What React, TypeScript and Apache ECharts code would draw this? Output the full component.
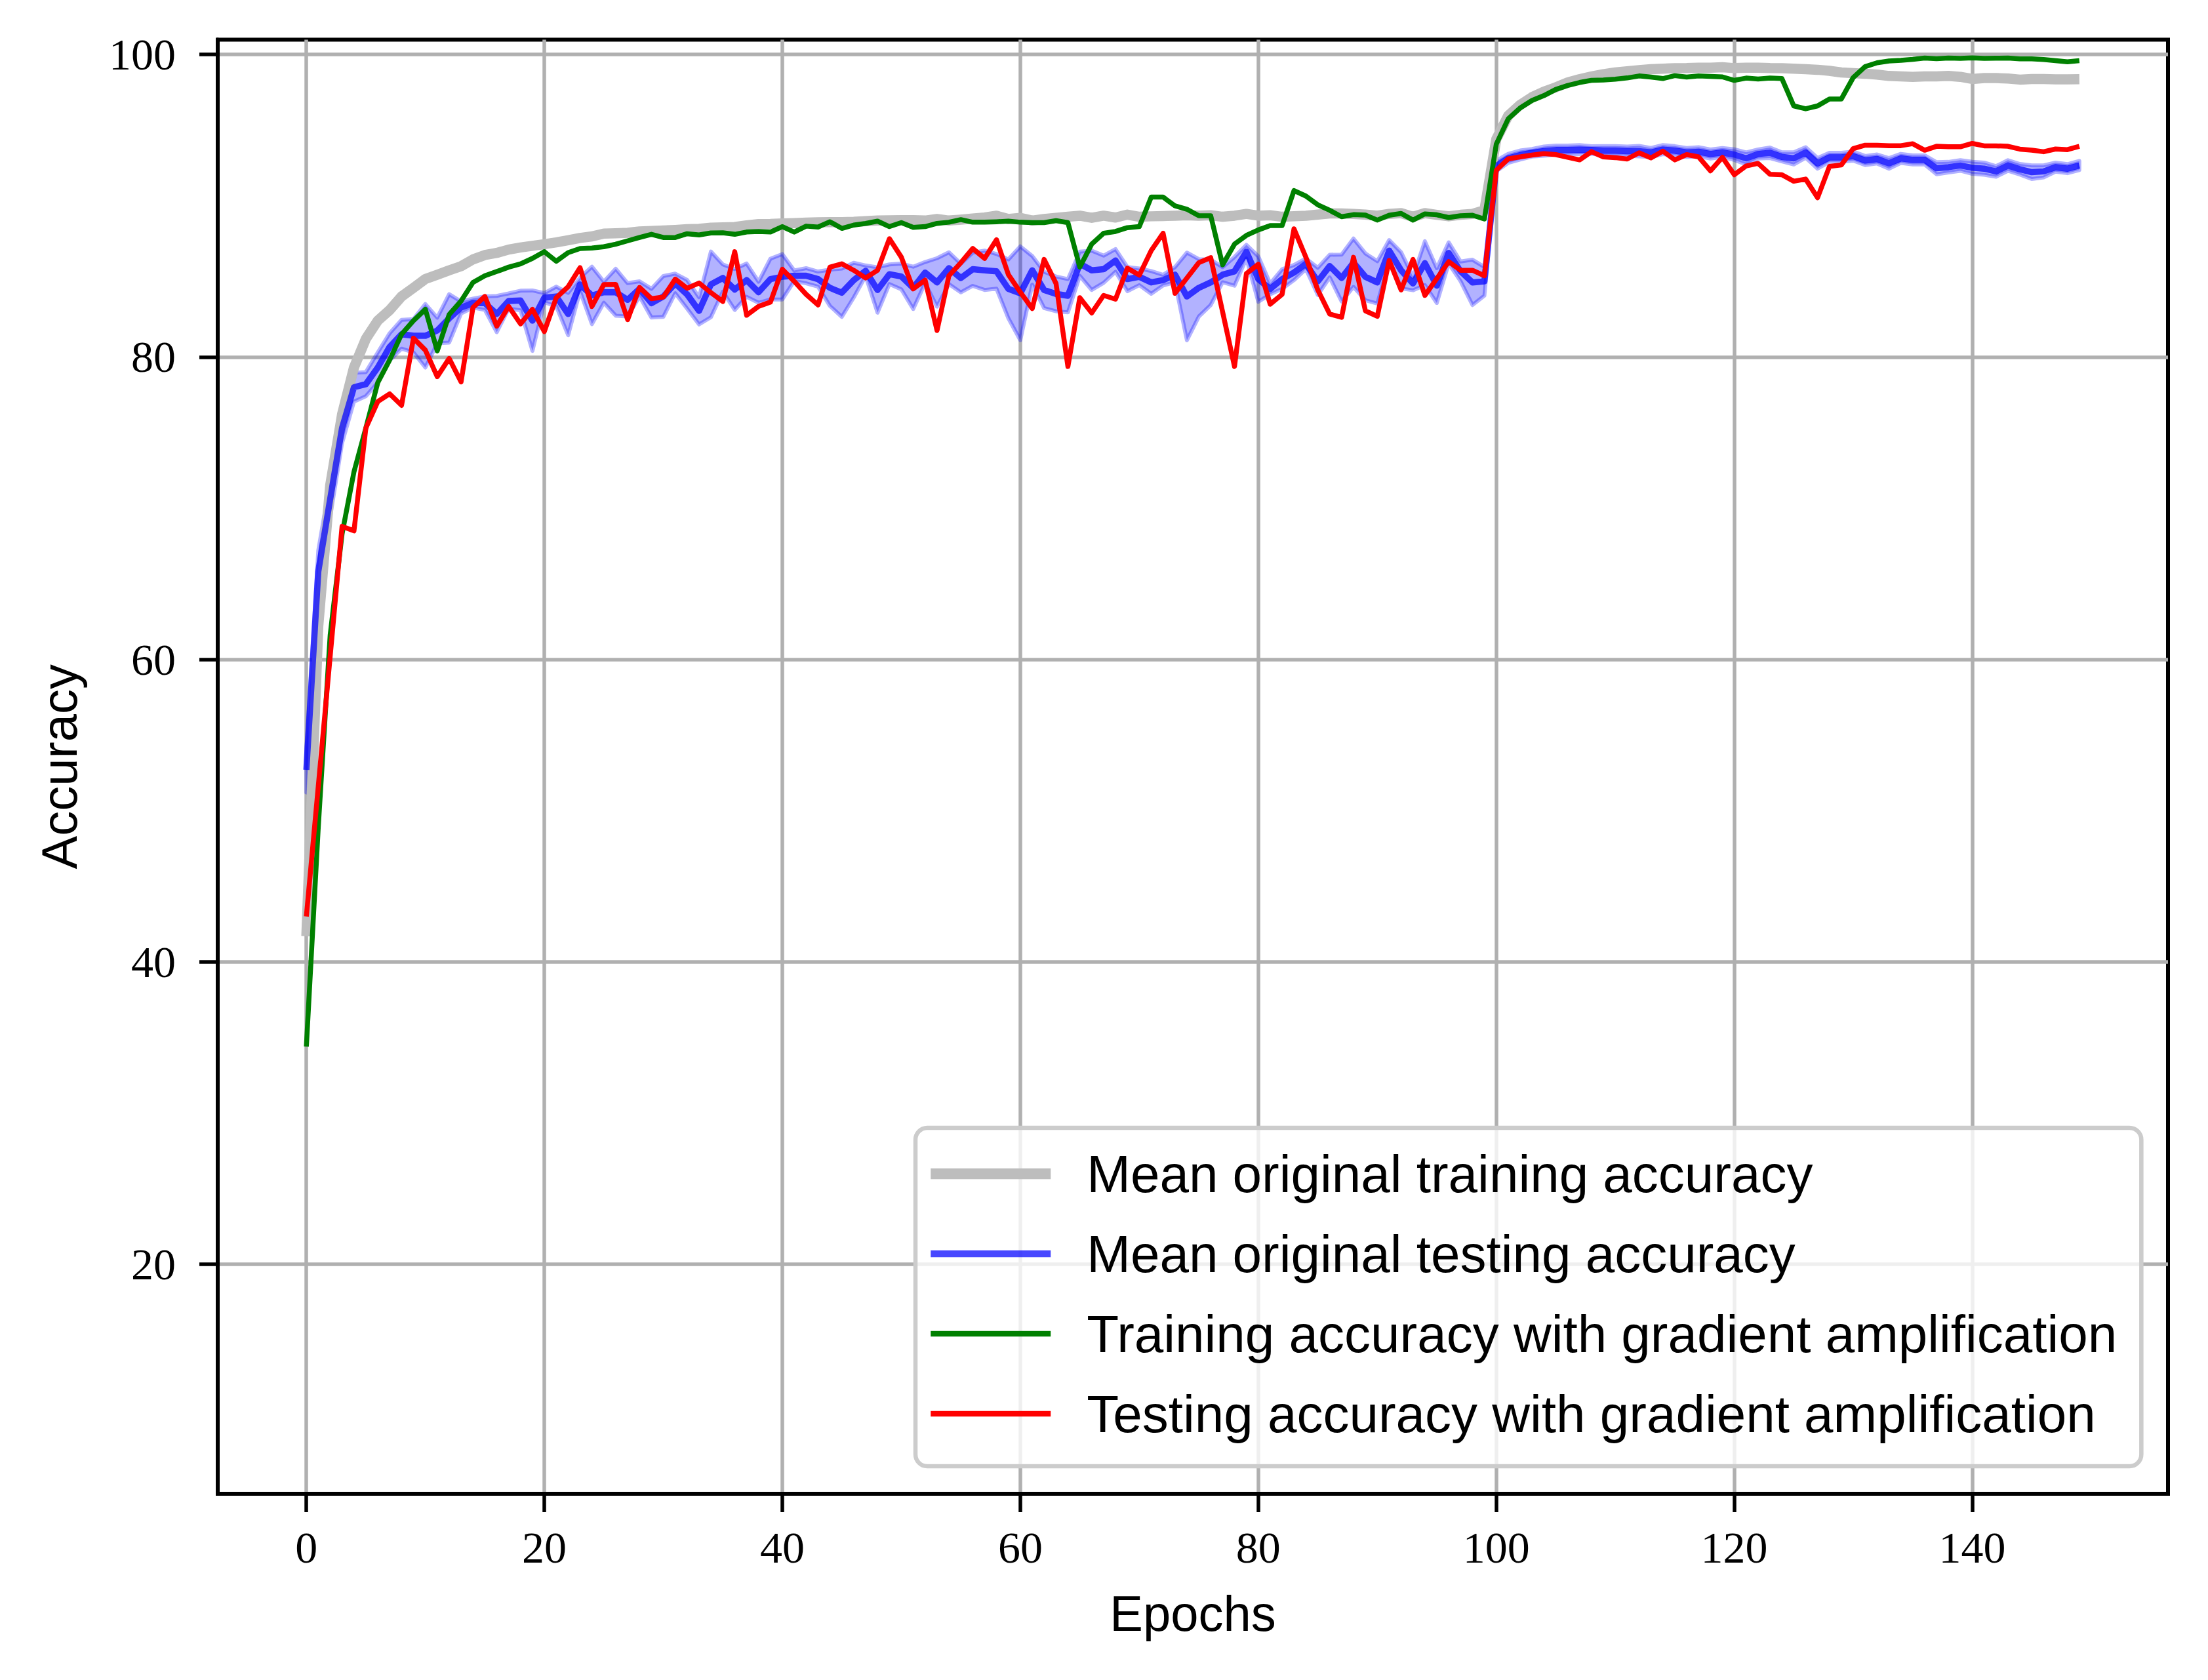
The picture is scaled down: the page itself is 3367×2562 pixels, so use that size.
import React, { useEffect, useRef } from 'react';
import * as echarts from 'echarts';

const grayTrain = [
  41.7, 62.2, 71.5, 76.2, 79.3, 81.2, 82.4, 83.1, 84.0, 84.57,
  85.15, 85.44, 85.73, 86.0, 86.45, 86.74, 86.88, 87.1, 87.24, 87.35,
  87.46, 87.58, 87.72, 87.87, 87.97, 88.16, 88.18, 88.21, 88.3, 88.33,
  88.36, 88.4, 88.45, 88.47, 88.55, 88.57, 88.59, 88.7, 88.79, 88.8,
  88.83, 88.85, 88.88, 88.9, 88.91, 88.92, 88.94, 88.98, 89.02, 89.03,
  89.05, 89.04, 89.02, 89.12, 89.02, 89.08, 89.15, 89.22, 89.34, 89.12,
  89.2, 89.02, 89.12, 89.2, 89.27, 89.34, 89.2, 89.34, 89.22, 89.41,
  89.27, 89.3, 89.32, 89.34, 89.37, 89.34, 89.37, 89.27, 89.34, 89.46,
  89.34, 89.37, 89.27, 89.31, 89.34, 89.41, 89.49, 89.49, 89.46, 89.41,
  89.34, 89.46, 89.51, 89.27, 89.51, 89.4, 89.3, 89.4, 89.46, 89.7,
  94.4, 95.95, 96.67, 97.18, 97.54, 97.83, 98.15, 98.37, 98.55, 98.7,
  98.81, 98.89, 98.96, 99.03, 99.06, 99.09, 99.1, 99.13, 99.13, 99.16,
  99.1, 99.13, 99.13, 99.1, 99.09, 99.06, 99.03, 98.99, 98.92, 98.81,
  98.77, 98.73, 98.67, 98.58, 98.55, 98.52, 98.55, 98.55, 98.58, 98.52,
  98.38, 98.44, 98.44, 98.41, 98.34, 98.38, 98.38, 98.36, 98.36, 98.37,
];

const blueTest = [
  52.7, 65.8, 70.6, 75.3, 78.0, 78.2, 79.3, 80.67, 81.5, 81.4,
  81.4, 81.75, 82.55, 83.27, 83.56, 83.56, 82.84, 83.7, 83.73, 82.4,
  83.92, 84.0, 82.84, 84.79, 84.07, 84.28, 84.28, 83.78, 84.5, 83.56,
  84.0, 84.86, 84.14, 83.05, 84.8, 85.22, 84.46, 85.08, 84.28, 85.15,
  85.3, 85.37, 85.37, 85.15, 84.57, 84.25, 85.08, 85.7, 84.43, 85.47,
  85.32, 84.57, 85.58, 84.93, 85.87, 85.22, 85.8, 85.73, 85.66, 84.5,
  84.21, 85.73, 84.43, 84.17, 84.05, 86.16, 85.73, 85.8, 86.38, 85.15,
  85.3, 84.93, 85.08, 85.44, 84.0, 84.57, 84.93, 85.44, 85.66, 86.96,
  85.15, 84.5, 85.15, 85.58, 86.16, 85.0, 86.01, 85.22, 86.23, 85.3,
  84.93, 87.03, 85.73, 84.86, 86.2, 84.72, 86.88, 85.66, 84.93, 85.0,
  92.63, 93.13, 93.35, 93.5, 93.61, 93.68, 93.68, 93.71, 93.68, 93.64,
  93.64, 93.61, 93.61, 93.52, 93.71, 93.64, 93.52, 93.57, 93.42, 93.52,
  93.38, 93.13, 93.42, 93.5, 93.23, 93.13, 93.52, 92.8, 93.2, 93.2,
  93.28, 92.99, 93.09, 92.8, 93.13, 93.03, 93.03, 92.48, 92.55, 92.66,
  92.51, 92.45, 92.27, 92.66, 92.41, 92.22, 92.27, 92.55, 92.45, 92.66,
];

const blueStd = [
  1.5, 1.4, 1.2, 1.0, 0.95, 0.8, 1.0, 0.9, 0.95, 1.1,
  2.1, 0.85, 1.6, 0.4, 0.3, 0.45, 1.2, 0.5, 0.65, 2.0,
  0.3, 0.65, 1.4, 0.45, 1.9, 0.7, 1.55, 1.1, 0.5, 0.95,
  1.35, 0.65, 0.95, 0.9, 2.17, 0.9, 1.35, 1.1, 0.7, 1.35,
  1.5, 0.35, 0.5, 0.5, 1.2, 1.6, 1.15, 0.35, 1.5, 0.65,
  0.85, 1.4, 0.7, 1.6, 1.05, 0.95, 1.1, 1.3, 1.15, 1.95,
  3.1, 0.95, 1.2, 1.15, 1.1, 0.8, 1.3, 0.9, 0.75, 0.8,
  0.55, 0.75, 0.35, 0.5, 2.9, 1.9, 1.5, 0.5, 0.95, 0.45,
  1.5, 0.35, 0.65, 0.5, 0.35, 0.9, 0.75, 1.55, 1.6, 1.55,
  1.4, 0.7, 1.2, 0.45, 1.45, 1.15, 0.7, 0.65, 1.5, 0.95,
  0.35, 0.3, 0.3, 0.25, 0.3, 0.3, 0.3, 0.3, 0.25, 0.3,
  0.3, 0.3, 0.35, 0.3, 0.3, 0.3, 0.3, 0.3, 0.3, 0.3,
  0.35, 0.4, 0.3, 0.35, 0.3, 0.4, 0.35, 0.35, 0.3, 0.3,
  0.3, 0.3, 0.3, 0.35, 0.3, 0.3, 0.3, 0.4, 0.35, 0.35,
  0.4, 0.4, 0.35, 0.35, 0.35, 0.45, 0.4, 0.3, 0.3, 0.3,
];

const greenTrainAmp = [
  34.4, 48.9, 61.6, 68.3, 72.4, 75.3, 78.3, 79.8, 81.5, 82.4,
  83.15, 80.4, 82.8, 83.7, 84.93, 85.37, 85.65, 85.94, 86.16, 86.52,
  86.96, 86.33, 86.9, 87.17, 87.2, 87.29, 87.46, 87.68, 87.9, 88.11,
  87.9, 87.9, 88.15, 88.07, 88.2, 88.21, 88.11, 88.26, 88.3, 88.26,
  88.62, 88.26, 88.65, 88.59, 88.94, 88.5, 88.72, 88.83, 88.98, 88.62,
  88.88, 88.57, 88.62, 88.83, 88.91, 89.08, 88.91, 88.91, 88.94, 88.98,
  88.91, 88.88, 88.88, 89.01, 88.88, 85.94, 87.46, 88.18, 88.3, 88.55,
  88.62, 90.57, 90.57, 89.99, 89.77, 89.34, 89.34, 86.09, 87.46, 88.04,
  88.4, 88.69, 88.69, 91.0, 90.64, 90.06, 89.7, 89.27, 89.41, 89.38,
  89.05, 89.37, 89.49, 89.05, 89.46, 89.4, 89.22, 89.34, 89.37, 89.12,
  94.07, 95.74, 96.46, 96.96, 97.28, 97.69, 97.95, 98.15, 98.29, 98.31,
  98.37, 98.45, 98.58, 98.51, 98.41, 98.6, 98.51, 98.58, 98.55, 98.52,
  98.29, 98.44, 98.38, 98.44, 98.41, 96.6, 96.41, 96.6, 97.06, 97.06,
  98.48, 99.2, 99.45, 99.57, 99.61, 99.68, 99.77, 99.72, 99.77, 99.74,
  99.78, 99.74, 99.75, 99.77, 99.71, 99.71, 99.67, 99.59, 99.52, 99.59,
];

const redTestAmp = [
  43.0, 51.6, 60.2, 68.8, 68.5, 75.3, 77.05, 77.56, 76.8, 81.24,
  80.45, 78.7, 79.9, 78.35, 83.27, 84.0, 82.04, 83.34, 82.19, 83.15,
  81.68, 83.92, 84.64, 85.9, 83.34, 84.79, 84.8, 82.47, 84.6, 83.85,
  83.96, 85.15, 84.54, 84.89, 84.25, 83.67, 86.96, 82.76, 83.34, 83.63,
  85.8, 85.0, 84.14, 83.44, 85.94, 86.16, 85.73, 85.22, 85.73, 87.82,
  86.6, 84.5, 85.08, 81.75, 85.37, 86.23, 87.17, 86.52, 87.75, 85.44,
  84.28, 83.2, 86.45, 84.86, 79.37, 83.92, 82.91, 84.07, 83.82, 85.87,
  85.41, 87.03, 88.18, 84.21, 85.22, 86.23, 86.57, 82.98, 79.37, 85.51,
  86.13, 83.49, 84.14, 88.47, 86.59, 84.43, 82.84, 82.62, 86.59, 83.05,
  82.69, 86.38, 84.43, 86.45, 84.07, 85.18, 86.3, 85.73, 85.73, 85.37,
  92.34, 93.1, 93.23, 93.35, 93.45, 93.38, 93.2, 93.03, 93.57, 93.23,
  93.18, 93.09, 93.5, 93.16, 93.61, 93.03, 93.38, 93.23, 92.31, 93.2,
  92.05, 92.63, 92.8, 92.08, 92.05, 91.62, 91.76, 90.53, 92.6, 92.7,
  93.78, 94.0, 94.0, 93.97, 93.97, 94.1, 93.67, 93.93, 93.9, 93.9,
  94.12, 93.96, 93.96, 93.93, 93.74, 93.67, 93.57, 93.75, 93.71, 93.93,
];

const xTicks = [0, 20, 40, 60, 80, 100, 120, 140];
const yTicks = [20, 40, 60, 80, 100];

const seriesNames = [
  'Mean original training accuracy',
  'Mean original testing accuracy',
  'Training accuracy with gradient amplification',
  'Testing accuracy with gradient amplification',
];
const seriesColors = ['#bdbdbd', 'rgba(0,0,255,0.72)', '#008000', '#ff0000'];
const seriesWidths = [15.5, 9.5, 7.5, 7.5];

const SANS = '"Liberation Sans", Arial, sans-serif';
const SERIF = '"Liberation Serif", "Times New Roman", serif';

export default function App() {
  const ref = useRef<HTMLDivElement>(null);

  useEffect(() => {
    document.body.style.margin = '0';
    const el = ref.current as HTMLDivElement;
    const chart = echarts.init(el, undefined, { renderer: 'svg' });

    const epochs = grayTrain.map((_, i) => i);
    const pairs = (arr: number[]) => arr.map((v, i) => [epochs[i], v]);
    const upper = blueTest.map((v, i) => v + blueStd[i]);
    const lower = blueTest.map((v, i) => v - blueStd[i]);

    const axisCommon = {
      type: 'value',
      axisLine: { show: true, onZero: false, lineStyle: { color: '#000', width: 6 } },
      axisTick: { show: true, inside: false, length: 28, lineStyle: { color: '#000', width: 5.5 } },
      splitLine: { show: true, lineStyle: { color: '#b0b0b0', width: 5.5 } },
    };

    const lineSeries = (idx: number, values: number[]) => ({
      name: seriesNames[idx],
      type: 'line',
      data: pairs(values),
      symbol: 'none',
      showSymbol: false,
      silent: true,
      color: seriesColors[idx],
      lineStyle: { color: seriesColors[idx], width: seriesWidths[idx], join: 'round' },
      emphasis: { disabled: true },
    });

    chart.setOption({
      animation: false,
      backgroundColor: '#ffffff',
      grid: {
        left: 332,
        right: 61,
        top: 60.5,
        bottom: 284,
        show: true,
        borderColor: '#000',
        borderWidth: 6,
        backgroundColor: 'transparent',
      },
      legend: {
        show: true,
        orient: 'vertical',
        left: 1396,
        top: 1720,
        selectedMode: false,
        data: seriesNames.map((name, i) => ({
          name,
          itemStyle: { color: 'rgba(0,0,0,0)', borderColor: 'rgba(0,0,0,0)', borderWidth: 0, opacity: 0 },
          lineStyle: { color: seriesColors[i], width: i === 0 ? 16.5 : seriesWidths[i] + 1, opacity: 1 },
        })),
        itemWidth: 183,
        itemHeight: 40,
        itemGap: 42,
        padding: [30, 37, 40, 15],
        backgroundColor: 'rgba(255,255,255,0.8)',
        borderColor: '#cccccc',
        borderWidth: 6.5,
        borderRadius: 18,
        textStyle: {
          fontFamily: SANS,
          fontSize: 80,
          lineHeight: 80,
          color: '#000',
          padding: [0, 0, 0, 50],
        },
      },
      xAxis: {
        ...axisCommon,
        min: -7.45,
        max: 156.45,
        name: 'Epochs',
        nameLocation: 'middle',
        nameGap: 182,
        nameTextStyle: { fontFamily: SANS, fontSize: 76, color: '#000', verticalAlign: 'middle' },
        axisTick: { ...axisCommon.axisTick, customValues: xTicks },
        axisLabel: {
          customValues: xTicks,
          fontFamily: SERIF,
          fontSize: 68,
          color: '#000',
          margin: 82,
          verticalAlign: 'middle',
        },
      },
      yAxis: {
        ...axisCommon,
        min: 4.83,
        max: 100.98,
        name: 'Accuracy',
        nameLocation: 'middle',
        nameGap: 242,
        nameRotate: 90,
        nameTextStyle: { fontFamily: SANS, fontSize: 76, color: '#000', verticalAlign: 'middle' },
        axisTick: { ...axisCommon.axisTick, customValues: yTicks },
        axisLabel: {
          customValues: yTicks,
          fontFamily: SERIF,
          fontSize: 68,
          color: '#000',
          margin: 64,
          verticalAlign: 'middle',
        },
      },
      series: [
        lineSeries(0, grayTrain),
        {
          name: 'std band',
          type: 'custom',
          silent: true,
          coordinateSystem: 'cartesian2d',
          data: [[0, blueTest[0]]],
          encode: { x: 0, y: 1 },
          renderItem: (_params: any, api: any) => {
            const pts: number[][] = [];
            for (let i = 0; i < epochs.length; i++) pts.push(api.coord([epochs[i], upper[i]]));
            for (let i = epochs.length - 1; i >= 0; i--) pts.push(api.coord([epochs[i], lower[i]]));
            return {
              type: 'polygon',
              shape: { points: pts },
              style: {
                fill: 'rgba(0,0,255,0.3)',
                stroke: 'rgba(0,0,255,0.3)',
                lineWidth: 6,
                lineJoin: 'round',
              },
            };
          },
        },
        lineSeries(1, blueTest),
        lineSeries(2, greenTrainAmp),
        lineSeries(3, redTestAmp),
      ],
    });

    return () => {
      chart.dispose();
    };
  }, []);

  return (
    <div
      ref={ref}
      style={{ position: 'fixed', left: 0, top: 0, width: 3367, height: 2562, background: '#ffffff' }}
    />
  );
}
